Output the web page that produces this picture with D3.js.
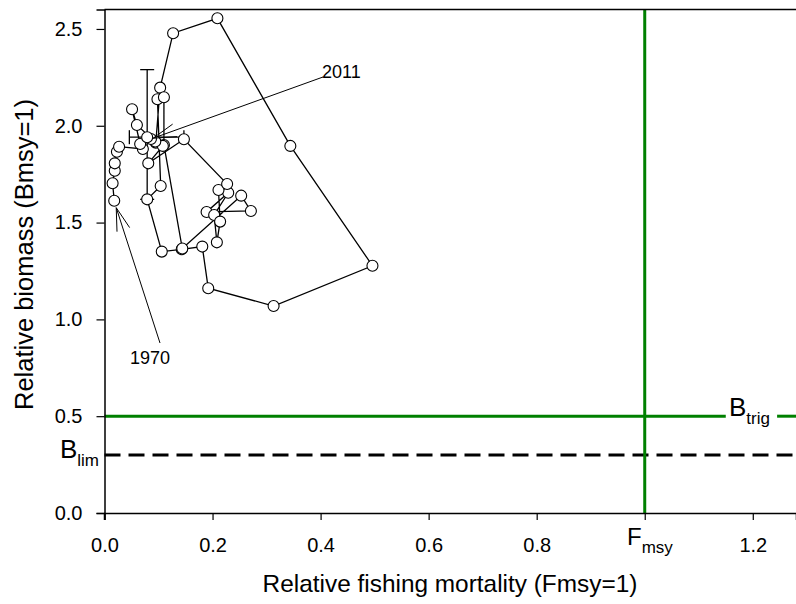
<!DOCTYPE html>
<html>
<head>
<meta charset="utf-8">
<script src="https://cdn.jsdelivr.net/npm/d3@7"></script>
<style>
  body { margin: 0; background: #fff; }
  text { font-family: "Liberation Sans", Arial, sans-serif; }
</style>
</head>
<body>
<script>
// years 1970..2011
const years = d3.range(1970, 2012);
// relative fishing mortality (F/Fmsy)
const fRel = [0.018, 0.015, 0.019, 0.019, 0.023, 0.027, 0.071, 0.066, 0.051, 0.060,
              0.095, 0.103, 0.127, 0.209, 0.344, 0.496, 0.313, 0.192, 0.181, 0.143,
              0.106, 0.079, 0.104, 0.098, 0.110, 0.110, 0.144, 0.253, 0.271, 0.189,
              0.229, 0.203, 0.208, 0.214, 0.211, 0.227, 0.147, 0.081, 0.108, 0.094,
              0.086, 0.079];
// relative biomass (B/Bmsy)
const bRel = [1.613, 1.703, 1.768, 1.806, 1.866, 1.892, 1.880, 1.906, 2.085, 2.004,
              1.913, 2.197, 2.478, 2.555, 1.896, 1.277, 1.069, 1.161, 1.376, 1.362,
              1.350, 1.620, 1.689, 2.137, 2.147, 1.901, 1.366, 1.639, 1.560, 1.555,
              1.654, 1.539, 1.398, 1.505, 1.668, 1.699, 1.930, 1.806, 1.896, 1.919,
              1.932, 1.941];
// 2011 confidence limits
const fErr = [0.046, 0.147];
const bErr = [1.62, 2.29];
// reference points
const Fmsy = 1.0, Btrig = 0.5, Blim = 0.3;
const xTicks = [0, 0.2, 0.4, 0.6, 0.8, 1.0, 1.2];
const yTicks = [0, 0.5, 1.0, 1.5, 2.0, 2.5];

const data = years.map((yr, i) => ({year: yr, f: fRel[i], b: bRel[i]}));

const width = 796, height = 604;
const svg = d3.select("body").append("svg")
    .attr("width", width)
    .attr("height", height);

const x = d3.scaleLinear().domain([0, 1.28]).range([104.5, 796]);
const y = d3.scaleLinear().domain([0, 2.6]).range([513, 9.6]);

const green = "#008000";

// reference lines
svg.append("line")
    .attr("x1", x(0)).attr("x2", x(1.28))
    .attr("y1", y(Blim)).attr("y2", y(Blim))
    .attr("stroke", "#000").attr("stroke-width", 3)
    .attr("stroke-dasharray", "16,8");

svg.append("line")
    .attr("x1", x(0)).attr("x2", x(1.150))
    .attr("y1", y(Btrig)).attr("y2", y(Btrig))
    .attr("stroke", green).attr("stroke-width", 3);
svg.append("line")
    .attr("x1", x(1.245)).attr("x2", x(1.28))
    .attr("y1", y(Btrig)).attr("y2", y(Btrig))
    .attr("stroke", green).attr("stroke-width", 3);

svg.append("line")
    .attr("x1", x(Fmsy)).attr("x2", x(Fmsy))
    .attr("y1", y(0)).attr("y2", y(2.6))
    .attr("stroke", green).attr("stroke-width", 3);

// axes
const xAxis = svg.append("g")
    .attr("transform", `translate(0,${y(0)})`)
    .call(d3.axisBottom(x).tickValues(xTicks).tickSizeOuter(0).tickSize(7).tickPadding(18)
        .tickFormat(d => d === 1 ? "" : d3.format(".1f")(d)));
const yAxis = svg.append("g")
    .attr("transform", `translate(${x(0)},0)`)
    .call(d3.axisLeft(y).tickValues(yTicks).tickSizeOuter(0).tickSize(8).tickPadding(14)
        .tickFormat(d3.format(".1f")));
[xAxis, yAxis].forEach(g => {
    g.selectAll("text").attr("font-size", 20).attr("fill", "#000")
        .attr("font-family", "Liberation Sans, Arial, sans-serif");
    g.select(".domain").attr("stroke-width", 1.5);
    g.selectAll(".tick line").attr("stroke-width", 1.2);
});
// extend y axis below the x axis a bit
svg.append("line")
    .attr("x1", x(0)).attr("x2", x(0))
    .attr("y1", y(0)).attr("y2", y(0) + 7)
    .attr("stroke", "#000").attr("stroke-width", 1.5);
// top frame
svg.append("line")
    .attr("x1", x(0)).attr("x2", x(1.28))
    .attr("y1", y(2.6)).attr("y2", y(2.6))
    .attr("stroke", "#000").attr("stroke-width", 1.5);

// axis titles
svg.append("text")
    .attr("x", 450).attr("y", 592)
    .attr("text-anchor", "middle")
    .attr("font-size", 24.4)
    .text("Relative fishing mortality (Fmsy=1)");
svg.append("text")
    .attr("transform", "translate(33,254.5) rotate(-90)")
    .attr("text-anchor", "middle")
    .attr("font-size", 25.5)
    .text("Relative biomass (Bmsy=1)");

// reference labels
function subLabel(px, py, main, sub, anchor, size) {
    const t = svg.append("text")
        .attr("x", px).attr("y", py)
        .attr("text-anchor", anchor)
        .attr("font-size", size);
    t.append("tspan").text(main);
    t.append("tspan").attr("font-size", 17).attr("dy", 8).text(sub);
}
subLabel(729, y(Btrig), "B", "trig", "start", 26);
subLabel(99, y(Blim) + 3, "B", "lim", "end", 26);
subLabel(627, 545, "F", "msy", "start", 24);

// trajectory
const line = d3.line().x(d => x(d.f)).y(d => y(d.b));
svg.append("path")
    .datum(data)
    .attr("d", line)
    .attr("fill", "none")
    .attr("stroke", "#000")
    .attr("stroke-width", 1.3);

// error bars for final year
const last = data[data.length - 1];
const cap = 7;
svg.append("line")
    .attr("x1", x(last.f)).attr("x2", x(last.f))
    .attr("y1", y(bErr[0])).attr("y2", y(bErr[1]))
    .attr("stroke", "#000").attr("stroke-width", 1.3);
[bErr[0], bErr[1]].forEach(v => svg.append("line")
    .attr("x1", x(last.f) - cap).attr("x2", x(last.f) + cap)
    .attr("y1", y(v)).attr("y2", y(v))
    .attr("stroke", "#000").attr("stroke-width", 1.3));
svg.append("line")
    .attr("x1", x(fErr[0])).attr("x2", x(fErr[1]))
    .attr("y1", y(last.b)).attr("y2", y(last.b))
    .attr("stroke", "#000").attr("stroke-width", 1.3);
[fErr[0], fErr[1]].forEach(v => svg.append("line")
    .attr("x1", x(v)).attr("x2", x(v))
    .attr("y1", y(last.b) - cap).attr("y2", y(last.b) + cap)
    .attr("stroke", "#000").attr("stroke-width", 1.3));

svg.selectAll("circle.pt")
    .data(data)
    .enter()
    .append("circle")
    .attr("class", "pt")
    .attr("cx", d => x(d.f))
    .attr("cy", d => y(d.b))
    .attr("r", 5.5)
    .attr("fill", "#fff")
    .attr("stroke", "#000")
    .attr("stroke-width", 1.1);

// year annotations with open arrowheads
function annotate(d, tx, ty, lx, ly, label) {
    const px = x(d.f) + (d.year === 1970 ? 2 : 6), py = y(d.b) + (d.year === 1970 ? 7 : 1);
    svg.append("line")
        .attr("x1", tx).attr("y1", ty).attr("x2", px).attr("y2", py)
        .attr("stroke", "#000").attr("stroke-width", 1);
    const ang = Math.atan2(ty - py, tx - px);
    [-0.28, 0.28].forEach(da => svg.append("line")
        .attr("x1", px).attr("y1", py)
        .attr("x2", px + 24 * Math.cos(ang + da))
        .attr("y2", py + 24 * Math.sin(ang + da))
        .attr("stroke", "#000").attr("stroke-width", 1));
    svg.append("text")
        .attr("x", lx).attr("y", ly)
        .attr("font-size", 18)
        .text(label);
}
annotate(data[0], 160, 343, 130, 364, "1970");
annotate(last, 323, 77, 322, 78, "2011");
</script>
</body>
</html>
